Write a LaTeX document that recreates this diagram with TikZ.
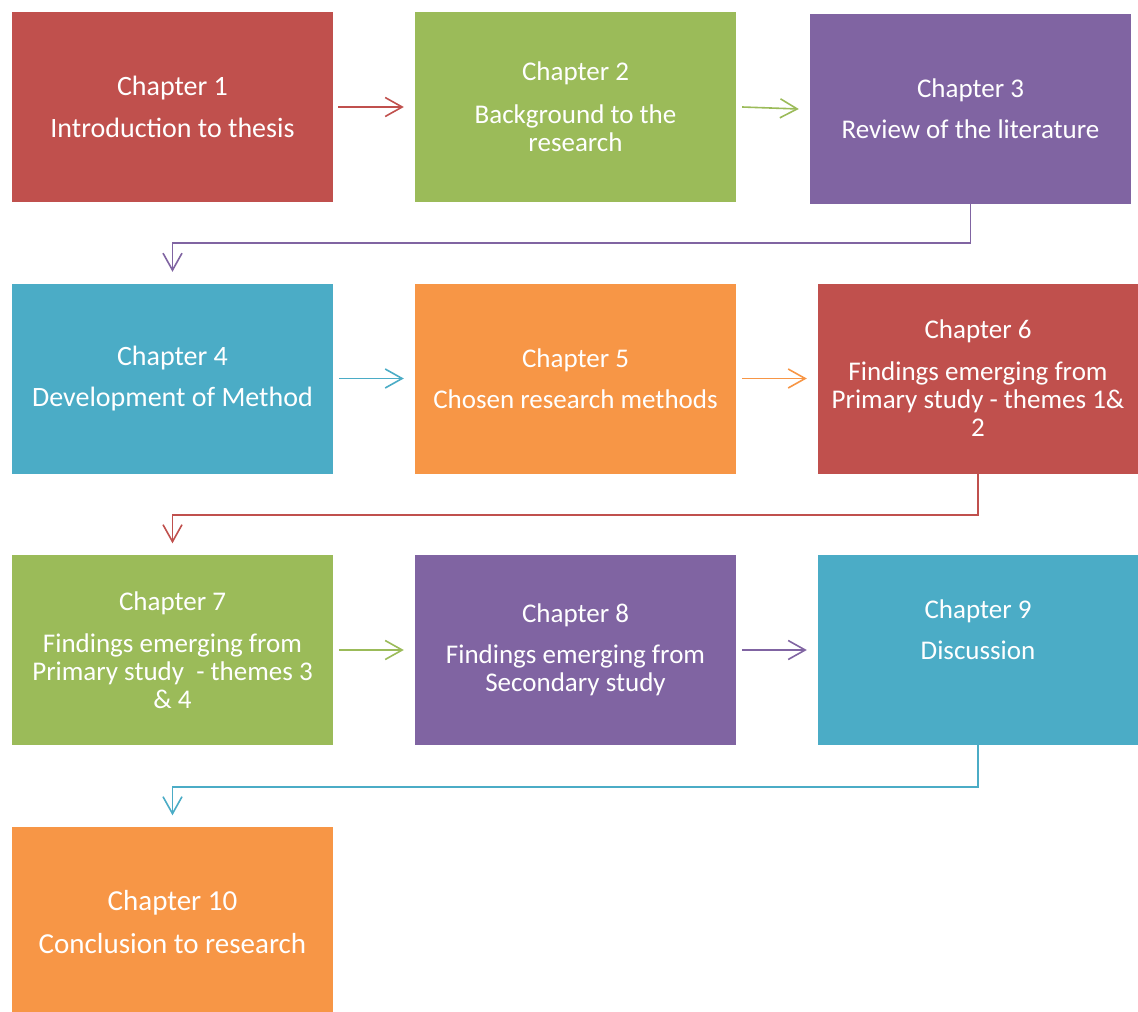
\documentclass[tikz,border=0pt]{standalone}
\usepackage{fontspec}
\setmainfont{Carlito}
\usetikzlibrary{arrows.meta}

\definecolor{cred}{HTML}{C0504D}
\definecolor{cgreen}{HTML}{9BBB59}
\definecolor{cpurple}{HTML}{8064A2}
\definecolor{cblue}{HTML}{4BACC6}
\definecolor{corange}{HTML}{F79646}

\begin{document}
\begin{tikzpicture}[x=1pt,y=-1pt,
  chap/.style={fill=#1, draw=none, minimum width=321pt, minimum height=190pt,
    inner sep=0pt, text=white, align=center,
    font=\fontsize{27}{28}\selectfont,
    execute at begin node={\rule{0pt}{26pt}}},
  link/.style={draw=#1, line width=1.6pt,
    -{Straight Barb[length=17pt,width=19pt]}}
]
\useasboundingbox (0,0) rectangle (1138,1012);

% chapter boxes
\node[chap=cred, font=\fontsize{28}{28.5}\selectfont]
                    (c1) at (172.5,107)   {Chapter 1\\[13pt]Introduction to thesis};
\node[chap=cgreen]  (c2) at (575.5,107)   {Chapter 2\\[15pt]Background to the\\research};
\node[chap=cpurple] (c3) at (970.5,109)   {Chapter 3\\[13pt]Review of the literature};

\node[chap=cblue, font=\fontsize{28}{28.5}\selectfont]
                    (c4) at (172.5,378.5) {Chapter 4\\[13pt]Development of Method};
\node[chap=corange] (c5) at (575.5,378.5) {Chapter 5\\[13pt]Chosen research methods};
\node[chap=cred, minimum width=320pt]
                    (c6) at (978,378.5)   {Chapter 6\\[14pt]Findings emerging from\\Primary study - themes 1\&\\2};

\node[chap=cgreen]  (c7) at (172.5,650)   {Chapter 7\\[14pt]Findings emerging from\\Primary study\ \ - themes 3\\\& 4};
\node[chap=cpurple] (c8) at (575.5,650)   {Chapter 8\\[13pt]Findings emerging from\\Secondary study};
\node[chap=cblue, minimum width=320pt]
                    (c9) at (978,650)     {Chapter 9\\[13pt]Discussion\\[13pt]};

\node[chap=corange, font=\fontsize{29}{30.5}\selectfont]
                    (c10) at (172.5,922)  {Chapter 10\\[13pt]Conclusion to research};

% arrows within rows
\draw[link=cred]    ([xshift=5pt]c1.east) -- ([xshift=-11pt]c2.west);
\draw[link=cgreen]  ([xshift=6pt]c2.east) -- ([xshift=-11pt]c3.west);
\draw[link=cblue]   ([xshift=6pt]c4.east) -- ([xshift=-11pt]c5.west);
\draw[link=corange] ([xshift=6pt]c5.east) -- ([xshift=-11pt]c6.west);
\draw[link=cgreen]  ([xshift=6pt]c7.east) -- ([xshift=-11pt]c8.west);
\draw[link=cpurple] ([xshift=6pt]c8.east) -- ([xshift=-11pt]c9.west);

% elbow connectors between rows
\draw[link=cpurple] (c3.south) -- ++(0,39)   -| ([yshift=11.5pt]c4.north);
\draw[link=cred]    (c6.south) -- ++(0,41.5) -| ([yshift=11.5pt]c7.north);
\draw[link=cblue]   (c9.south) -- ++(0,42)   -| ([yshift=11.5pt]c10.north);
\end{tikzpicture}
\end{document}
